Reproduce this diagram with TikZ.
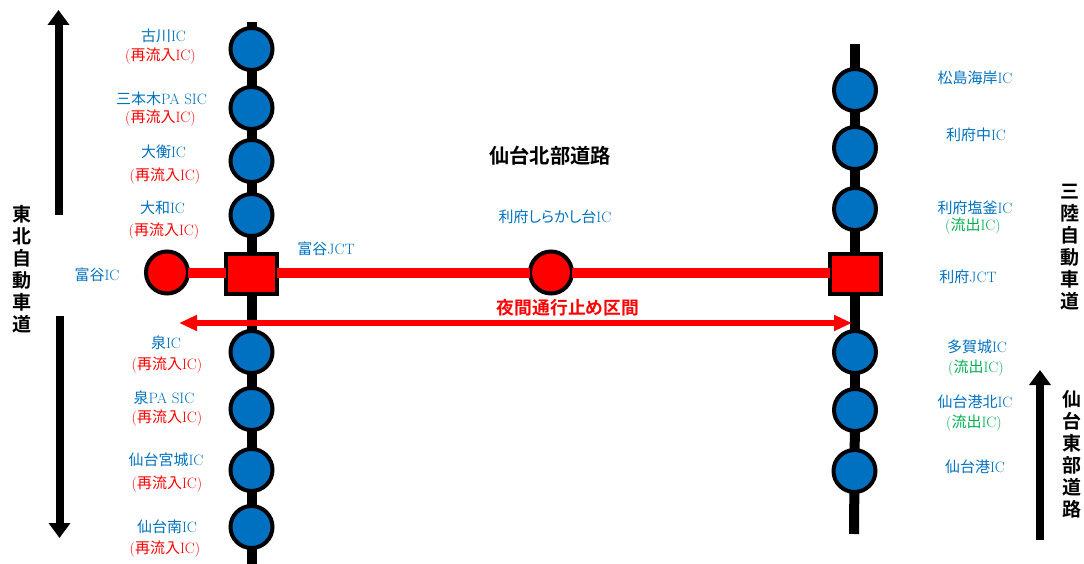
\documentclass[tikz,border=0pt]{standalone}
\usepackage{fontspec}
\usetikzlibrary{arrows.meta}
\newfontfamily\cjk{Noto Sans CJK JP}
\newfontfamily\cjkprop[RawFeature={+palt}]{Noto Sans CJK JP}
\newfontfamily\cjkbold{Noto Sans CJK JP Bold}
\newcommand{\jp}[1]{{\cjk #1}}
\definecolor{icblue}{HTML}{0070C0}
\definecolor{icgreen}{HTML}{00B050}
\begin{document}
\begin{tikzpicture}[x=1pt,y=-1pt,
    ic/.style={circle, draw=black, line width=4pt, fill=icblue, minimum size=42pt, inner sep=0pt, outer sep=0pt},
    closedic/.style={ic, fill=red},
    jct/.style={rectangle, draw=black, line width=4pt, fill=red, minimum width=51pt, minimum height=40.5pt, inner sep=0pt, outer sep=0pt},
    road/.style={line width=10pt, black},
    closedroad/.style={line width=10pt, red},
    dirarrow/.style={line width=8pt, black, -{Triangle[length=15pt,width=21pt]}},
    icname/.style={text=icblue, inner sep=0pt, font=\fontsize{15}{17}\selectfont},
    rejoin/.style={text=red, inner sep=0pt, yshift=-1pt, font=\fontsize{15}{17}\selectfont},
    exitonly/.style={text=icgreen, inner sep=0pt, yshift=-1pt, font=\fontsize{15}{17}\selectfont},
    roadname/.style={inner sep=0pt, align=center, font=\fontsize{19}{22}\selectfont\cjkbold}
    ]
    \useasboundingbox (0,0) rectangle (1084,564);

    % left road
    \coordinate (ltop) at (251.5,22);
    \coordinate (lbot) at (251.5,564);
    \node[ic] (furukawa) at (251.5,49) {};
    \node[ic] (sanbongi) at (251.5,108) {};
    \node[ic] (ohira) at (251.5,161) {};
    \node[ic] (taiwa) at (251.5,215) {};
    \node[jct] (tomiyajct) at (251.5,274) {};
    \node[ic] (izumi) at (251.5,352) {};
    \node[ic] (izumipa) at (251.5,409) {};
    \node[ic] (miyagi) at (251.5,470) {};
    \node[ic] (minami) at (251.5,527) {};

    % right road
    \coordinate (rtop) at (855,44);
    \coordinate (rbot) at (854,534);
    \node[ic] (matsushima) at (855,90) {};
    \node[ic] (rifunaka) at (855,148) {};
    \node[ic] (shiogama) at (855,209) {};
    \node[jct] (rifujct) at (855,274) {};
    \node[ic] (tagajo) at (855,352) {};
    \node[ic] (kohoku) at (855,410) {};
    \node[ic] (sendaiko) at (854.5,471) {};

    % closed section
    \node[closedic] (tomiya) at (167,272.5) {};
    \node[closedic] (shirakashi) at (551,272.5) {};

    \foreach \a/\b in {ltop/furukawa, furukawa/sanbongi, sanbongi/ohira, ohira/taiwa, taiwa/tomiyajct,
        tomiyajct/izumi, izumi/izumipa, izumipa/miyagi, miyagi/minami, minami/lbot,
        rtop/matsushima, matsushima/rifunaka, rifunaka/shiogama, shiogama/rifujct,
        rifujct/tagajo, tagajo/kohoku, kohoku/sendaiko, sendaiko/rbot}
      \draw[road] (\a) -- (\b);
    \draw[closedroad] (tomiya) -- (tomiyajct.west |- tomiya);
    \draw[closedroad] (tomiyajct.east |- shirakashi) -- (shirakashi);
    \draw[closedroad] (shirakashi) -- (rifujct.west |- shirakashi);

    % arrows
    \coordinate (nightw) at (179,323);
    \coordinate (nighte) at (852,323);
    \draw[red, line width=6pt, {Triangle[length=18pt,width=15pt]}-{Triangle[length=18pt,width=15pt]}] (nightw) -- (nighte);
    \coordinate (northa) at (58.5,215);
    \coordinate (northb) at (58.5,10);
    \draw[dirarrow] (northa) -- (northb);
    \coordinate (southa) at (59.5,316);
    \coordinate (southb) at (59.5,538);
    \draw[dirarrow] (southa) -- (southb);
    \coordinate (easta) at (1040,540);
    \coordinate (eastb) at (1040,370);
    \draw[dirarrow] (easta) -- (eastb);

    % left labels
    \node[icname] (t1) at (163.5,36) {\jp{古川}IC};
    \node[rejoin] (r1) at (160.5,55) {(\jp{再流入}IC)};
    \node[icname] (t2) at (161.5,99) {\jp{三本木}PA SIC};
    \node[rejoin] (r2) at (160.5,117) {(\jp{再流入}IC)};
    \node[icname] (t3) at (163.5,152) {\jp{大衡}IC};
    \node[rejoin] (r3) at (165,175) {(\jp{再流入}IC)};
    \node[icname] (t4) at (162.5,208) {\jp{大和}IC};
    \node[rejoin] (r4) at (164,230) {(\jp{再流入}IC)};
    \node[icname] (t5) at (97,275) {\jp{富谷}IC};
    \node[icname] (t6) at (326,249) {\jp{富谷}JCT};
    \node[icname] (t7) at (166,343) {\jp{泉}IC};
    \node[rejoin] (r7) at (167,364) {(\jp{再流入}IC)};
    \node[icname] (t8) at (164,398) {\jp{泉}PA SIC};
    \node[rejoin] (r8) at (167,417) {(\jp{再流入}IC)};
    \node[icname] (t9) at (166,460) {\jp{仙台宮城}IC};
    \node[rejoin] (r9) at (167,483) {(\jp{再流入}IC)};
    \node[icname] (t10) at (167,527) {\jp{仙台南}IC};
    \node[rejoin] (r10) at (165,548) {(\jp{再流入}IC)};

    % right labels
    \node[icname] (u1) at (975,78) {\jp{松島海岸}IC};
    \node[icname] (u2) at (976,135) {\jp{利府中}IC};
    \node[icname] (u3) at (975,208) {\jp{利府塩釜}IC};
    \node[exitonly] (e3) at (973,225) {(\jp{流出}IC)};
    \node[icname] (u4) at (968,277) {\jp{利府}JCT};
    \node[icname] (u5) at (977,347) {\jp{多賀城}IC};
    \node[exitonly] (e5) at (976,367) {(\jp{流出}IC)};
    \node[icname] (u6) at (975,402) {\jp{仙台港北}IC};
    \node[exitonly] (e6) at (974,422) {(\jp{流出}IC)};
    \node[icname] (u7) at (975,467) {\jp{仙台港}IC};

    % middle labels
    \node[icname] (m1) at (555,217) {{\cjkprop 利府しらかし台}IC};
    \node[roadname, font=\fontsize{20.3}{22}\selectfont\cjkbold] (kitabu) at (550,156) {仙台北部道路};
    \node[roadname, text=red, font=\fontsize{17.8}{20}\selectfont\cjkbold] (night) at (568,308) {夜間通行止め区間};

    % road names
    \node[roadname] (tohoku) at (22,269) {東\\北\\自\\動\\車\\道};
    \node[roadname] (sanriku) at (1070,247.5) {三\\陸\\自\\動\\車\\道};
    \node[roadname] (tobu) at (1072,454) {仙\\台\\東\\部\\道\\路};
  \end{tikzpicture}
\end{document}
